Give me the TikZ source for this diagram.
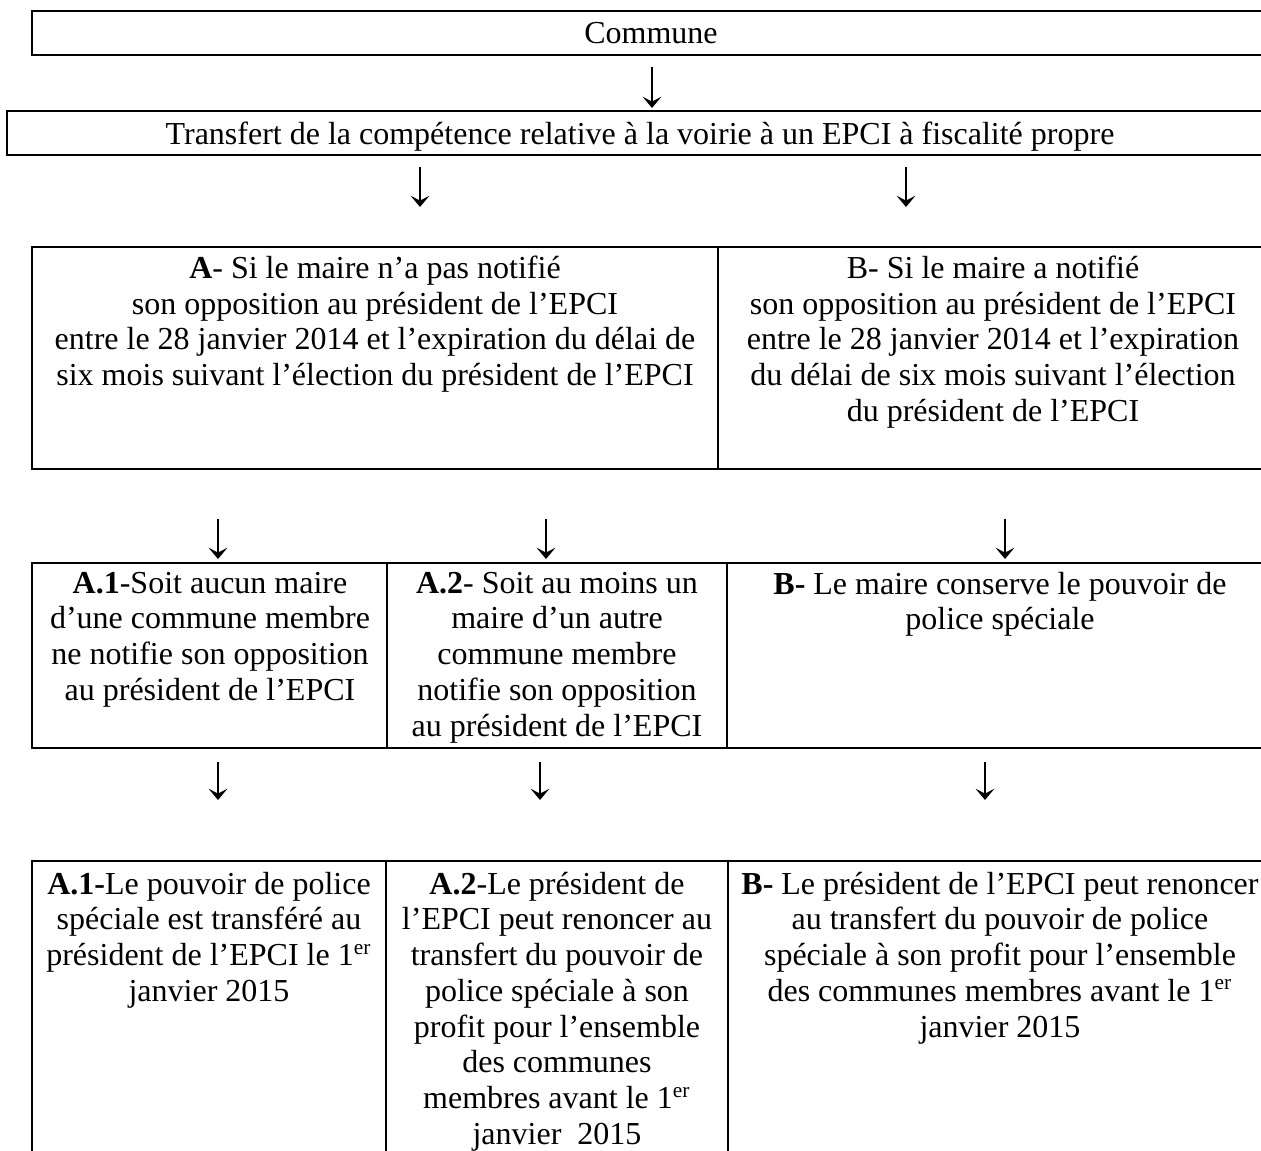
\documentclass[tikz,border=0pt]{standalone}
\usepackage{fontspec}
\setmainfont{Liberation Serif}
\usetikzlibrary{arrows.meta,fit}
\tikzset{
  box/.style={draw, line width=0.75pt, inner sep=0pt, outer sep=0pt},
  txt/.style={inner sep=0pt, outer sep=0pt, align=center, anchor=north,
    font=\fontsize{12}{13.4}\selectfont, execute at begin node=\strut},
  line1/.style={inner sep=0pt, outer sep=0pt, anchor=base, font=\fontsize{12}{13.4}\selectfont},
  arr/.style={line width=0.75pt, -{Stealth[length=4.2pt,width=7pt,inset=1.8pt]}}
}
\begin{document}
\begin{tikzpicture}[x=0.375pt,y=-0.375pt]
\useasboundingbox (0,0) rectangle (1261,1151);
\clip (0,0) rectangle (1261,1151);
% boxes
\node[box, fit={(32,11)(1272,55)}] (commune) {};
\node[box, fit={(7,111)(1273,155)}] (transfert) {};
\node[box, fit={(32,247)(718,469)}] (boxA) {};
\node[box, fit={(718,247)(1268,469)}] (boxB) {};
\node[box, fit={(32,563)(387,748)}] (rA1) {};
\node[box, fit={(387,563)(727,748)}] (rA2) {};
\node[box, fit={(727,563)(1273,748)}] (rB) {};
\node[box, fit={(32,861)(386,1175)}] (fA1) {};
\node[box, fit={(386,861)(728,1175)}] (fA2) {};
\node[box, fit={(728,861)(1273,1175)}] (fB) {};
% texts
\node[line1] (tcommune) at (651,44) {Commune};
\node[line1] (ttransfert) at (640,145) {Transfert de la compétence relative à la voirie à un EPCI à fiscalité propre};
\node[txt] (tA) at (375,256) {\textbf{A}- Si le maire n’a pas notifié\\ son opposition au président de l’EPCI\\ entre le 28 janvier 2014 et l’expiration du délai de\\ six mois suivant l’élection du président de l’EPCI};
\node[txt] (tB) at (993,256) {B- Si le maire a notifié\\ son opposition au président de l’EPCI\\ entre le 28 janvier 2014 et l’expiration\\ du délai de six mois suivant l’élection\\ du président de l’EPCI};
\node[txt] (trA1) at (210,572) {\textbf{A.1}-Soit aucun maire\\ d’une commune membre\\ ne notifie son opposition\\ au président de l’EPCI};
\node[txt] (trA2) at (557,572) {\textbf{A.2}- Soit au moins un\\ maire d’un autre\\ commune membre\\ notifie son opposition\\ au président de l’EPCI};
\node[txt] (trB) at (1000,572) {\textbf{B-} Le maire conserve le pouvoir de\\ police spéciale};
\node[txt] (tfA1) at (209,872) {\textbf{A.1-}Le pouvoir de police\\ spéciale est transféré au\\ président de l’EPCI le 1\textsuperscript{er}\\ janvier 2015};
\node[txt] (tfA2) at (557,872) {\textbf{A.2}-Le président de\\ l’EPCI peut renoncer au\\ transfert du pouvoir de\\ police spéciale à son\\ profit pour l’ensemble\\ des communes\\ membres avant le 1\textsuperscript{er}\\ janvier\ \ 2015};
\node[txt] (tfB) at (1000,872) {\textbf{B-} Le président de l’EPCI peut renoncer\\ au transfert du pouvoir de police\\ spéciale à son profit pour l’ensemble\\ des communes membres avant le 1\textsuperscript{er}\\ janvier 2015};
% arrow end points
\coordinate (a1s) at (652,67);  \coordinate (a1e) at (652,108);
\coordinate (a2s) at (420,167); \coordinate (a2e) at (420,207);
\coordinate (a3s) at (906,167); \coordinate (a3e) at (906,207);
\coordinate (a4s) at (218,519); \coordinate (a4e) at (218,559);
\coordinate (a5s) at (546,519); \coordinate (a5e) at (546,559);
\coordinate (a6s) at (1005,519); \coordinate (a6e) at (1005,559);
\coordinate (a7s) at (218,762); \coordinate (a7e) at (218,800);
\coordinate (a8s) at (540,762); \coordinate (a8e) at (540,800);
\coordinate (a9s) at (985,762); \coordinate (a9e) at (985,800);
\foreach \i in {1,...,9} {\draw[arr] (a\i s) -- (a\i e);}
\end{tikzpicture}
\end{document}
